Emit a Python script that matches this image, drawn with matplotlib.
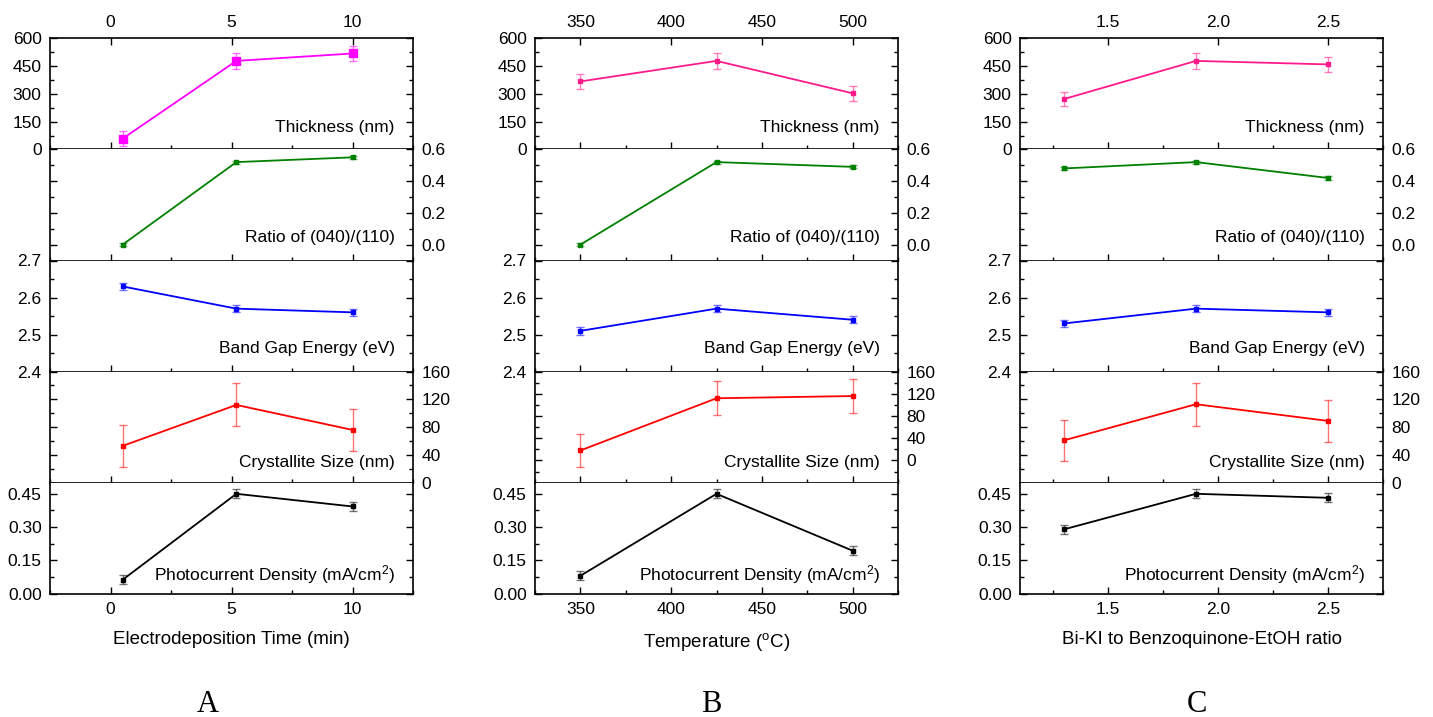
import matplotlib
matplotlib.use("Agg")
import matplotlib.pyplot as plt
from matplotlib.ticker import MultipleLocator, FormatStrFormatter, FixedLocator
from matplotlib.colors import to_rgba

plt.rcParams['font.family'] = ['Liberation Sans', 'DejaVu Sans']
plt.rcParams['mathtext.default'] = 'regular'

# x values for each column
x_time = [0.5, 5.2, 10]
x_temp = [350, 425, 500]
x_ratio = [1.3, 1.9, 2.5]

# thickness (nm)
thick_time = [58, 478, 518]
thick_temp = [367, 478, 303]
thick_ratio = [272, 478, 459]
thick_err = [40, 42, 42]

# ratio of (040)/(110)
peak_time = [0.0, 0.52, 0.55]
peak_temp = [0.0, 0.52, 0.49]
peak_ratio = [0.48, 0.52, 0.42]
peak_err = [0.01, 0.01, 0.01]

# band gap energy (eV)
gap_time = [2.63, 2.57, 2.56]
gap_temp = [2.51, 2.57, 2.54]
gap_ratio = [2.53, 2.57, 2.56]
gap_err = [0.01, 0.01, 0.01]

# crystallite size (nm)
cryst_time = [53, 112, 76]
cryst_temp = [18, 112, 116]
cryst_ratio = [61, 113, 89]
cryst_err = [30, 31, 30]

# photocurrent density (mA/cm2)
photo_time = [0.063, 0.45, 0.393]
photo_temp = [0.081, 0.45, 0.194]
photo_ratio = [0.29, 0.45, 0.432]
photo_err = [0.02, 0.02, 0.02]

cryst_ticks = [0, 40, 80, 120, 160]

columns = [
    dict(x=x_time, xlim=(-2.5, 12.5), major=5, minor=2.5, fmt='%g',
         xlabel='Electrodeposition Time (min)', letter='A', letter_x=208,
         data=[thick_time, peak_time, gap_time, cryst_time, photo_time],
         thick_color='#FF00FF', thick_ms=5.5, cryst_lim=(0, 160)),
    dict(x=x_temp, xlim=(325, 525), major=50, minor=25, fmt='%g',
         xlabel='Temperature ($^o$C)', letter='B', letter_x=711,
         data=[thick_temp, peak_temp, gap_temp, cryst_temp, photo_temp],
         thick_color='#FF1A8C', thick_ms=3, cryst_lim=(-40, 160)),
    dict(x=x_ratio, xlim=(1.1, 2.75), major=0.5, minor=0.25, fmt='%.1f',
         xlabel='Bi-KI to Benzoquinone-EtOH ratio', letter='C', letter_x=1197,
         data=[thick_ratio, peak_ratio, gap_ratio, cryst_ratio, photo_ratio],
         thick_color='#FF1A8C', thick_ms=3, cryst_lim=(0, 160)),
]

labels = ['Thickness (nm)', 'Ratio of (040)/(110)', 'Band Gap Energy (eV)',
          'Crystallite Size (nm)', 'Photocurrent Density (mA/cm$^2$)']
errs = [thick_err, peak_err, gap_err, cryst_err, photo_err]
colors = [None, '#008000', '#0000FF', '#FF0000', '#000000']
ylims = [(0, 600), (-0.1, 0.6), (2.4, 2.7), None, (0, 0.5)]
ymajor = [150, 0.2, 0.1, 40, 0.15]
yfmt = ['%d', '%.1f', '%.1f', '%d', '%.2f']
label_side = ['left', 'right', 'left', 'right', 'left']
label_y = [0.16, 0.17, 0.17, 0.14, 0.12]

fig = plt.figure(figsize=(14.33, 7.17), dpi=100)

lefts = [50 / 1433, 535 / 1433, 1020 / 1433]
width = 363 / 1433
top_px, panel_px = 38.3, 111.1

for c, col in enumerate(columns):
    axes = []
    for p in range(5):
        y0 = 1 - (top_px + (p + 1) * panel_px) / 717
        ax = fig.add_axes([lefts[c], y0, width, panel_px / 717],
                          sharex=axes[0] if axes else None)
        axes.append(ax)
        color = col['thick_color'] if p == 0 else colors[p]
        ms = col['thick_ms'] if p == 0 else 3
        ax.errorbar(col['x'], col['data'][p], yerr=errs[p], color=color,
                    ecolor=to_rgba(color, 0.55), marker='s', ms=ms, lw=1.3,
                    elinewidth=1, capsize=3, capthick=1)
        ylim = col['cryst_lim'] if p == 3 else ylims[p]
        ax.set_ylim(ylim)
        ax.set_xlim(col['xlim'])
        if p == 3:
            ax.yaxis.set_major_locator(FixedLocator(cryst_ticks))
        else:
            ax.yaxis.set_major_locator(MultipleLocator(ymajor[p]))
        ax.yaxis.set_minor_locator(MultipleLocator(ymajor[p] / 2))
        ax.yaxis.set_major_formatter(FormatStrFormatter(yfmt[p]))
        ax.xaxis.set_major_locator(MultipleLocator(col['major']))
        ax.xaxis.set_minor_locator(MultipleLocator(col['minor']))
        ax.xaxis.set_major_formatter(FormatStrFormatter(col['fmt']))
        ax.tick_params(which='both', direction='in', left=True, right=True,
                       labelsize=12.5, width=1)
        ax.tick_params(which='major', length=5, pad=6)
        ax.tick_params(which='minor', length=3)
        if label_side[p] == 'right':
            ax.tick_params(axis='y', labelleft=False, labelright=True)
        ax.tick_params(axis='x', bottom=True, top=(p == 0),
                       labelbottom=(p == 4), labeltop=(p == 0))
        if p > 0:
            ax.spines['top'].set_visible(False)
        for s in ax.spines.values():
            s.set_linewidth(1.2)
        ax.text(0.95, label_y[p], labels[p], transform=ax.transAxes,
                ha='right', va='baseline', fontsize=12.5)
    axes[-1].set_xlabel(col['xlabel'], fontsize=13.5, labelpad=10)
    fig.text(col['letter_x'] / 1433, 1 - 704 / 717, col['letter'],
             ha='center', va='center', fontsize=22,
             family=['Liberation Serif', 'DejaVu Serif'])

fig.savefig('out.png', dpi=100)
